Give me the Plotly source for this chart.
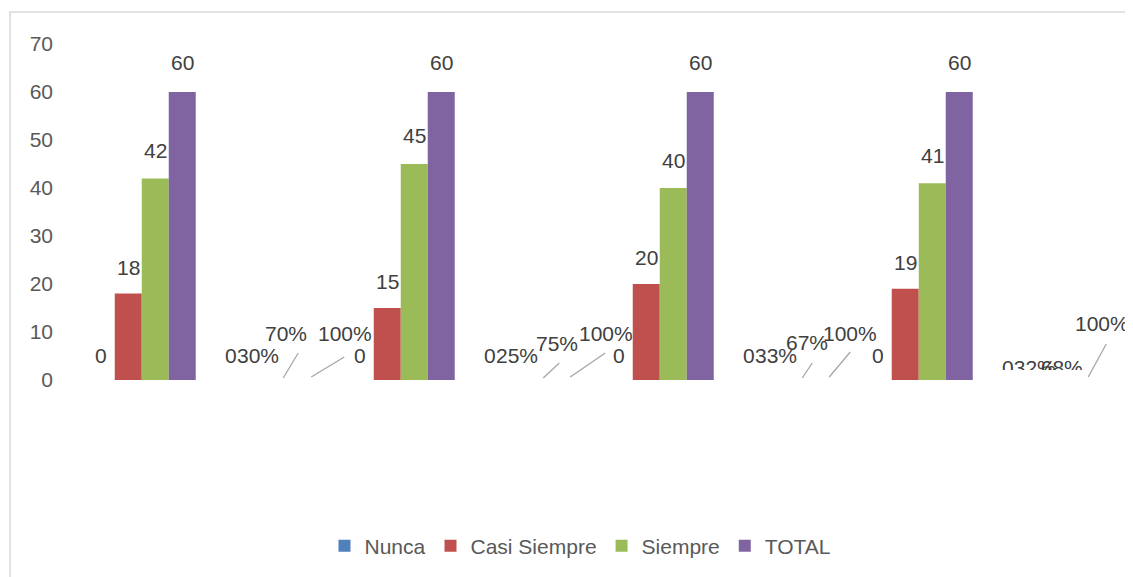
import plotly.graph_objects as go

# ---- data ----
categories = ["Ítem 1", "% Ítem 1", "Ítem 2", "% Ítem 2", "Ítem 3", "% Ítem 3", "Ítem 4", "% Ítem 4"]
# percentage columns were stored as text in the source sheet, so their columns sit at zero height
is_percent = [False, True, False, True, False, True, False, True]
series_names = ["Nunca", "Casi Siempre", "Siempre", "TOTAL"]
nunca = [0, 0, 0, 0, 0, 0, 0, 0]
casi_siempre = [18, 0.30, 15, 0.25, 20, 0.33, 19, 0.32]
siempre = [42, 0.70, 45, 0.75, 40, 0.67, 41, 0.68]
total = [60, 1.00, 60, 1.00, 60, 1.00, 60, 1.00]
y_ticks = [0, 10, 20, 30, 40, 50, 60, 70]

series_values = [nunca, casi_siempre, siempre, total]
colors = ["#4F81BD", "#C0504D", "#9BBB59", "#8064A2"]

FONT = "Liberation Sans, Arial, sans-serif"
LABEL_COLOR = "#404040"
BARGAP = 0.166
n_series = len(series_names)
bw = (1 - BARGAP) / n_series
xs = list(range(len(categories)))


def fmt(v, pct):
    if v == 0:
        return "0"
    return f"{round(v * 100):d}%" if pct else f"{v:g}"


def plotted(vals):
    return [0 if p else v for v, p in zip(vals, is_percent)]


fig = go.Figure()
for name, vals, col in zip(series_names, series_values, colors):
    fig.add_trace(go.Bar(x=xs, y=plotted(vals), name=name, marker=dict(color=col, line=dict(width=0))))

# label placement (pixel shifts) for moved labels on percent categories, keyed (category, series)
moved = {
    (1, 2): (1.5, 47, (-1.5, 2, 13.5, 27)),
    (1, 3): (33.5, 47, (-0.5, 3, 32.5, 23)),
    (3, 2): (13.5, 37, (-0.5, 2, 15.5, 17)),
    (3, 3): (35.5, 47, (-0.5, 3, 34.5, 27)),
    (5, 2): (4.5, 38, (-0.5, 2, 9.5, 17)),
    (5, 3): (20.5, 47, (-0.5, 3, 20.5, 28)),
    (7, 3): (13.5, 57, (-0.5, 3, 17.5, 36)),
}
hidden_clip = {(7, 0), (7, 1), (7, 2)}

annotations = []
shapes = []
clip_x, clip_t = [], []
for si, vals in enumerate(series_values):
    pv = plotted(vals)
    for ci, v in enumerate(vals):
        bx = ci + (si - (n_series - 1) / 2) * bw
        txt = fmt(v, is_percent[ci])
        if (ci, si) in hidden_clip:
            clip_x.append(bx)
            clip_t.append(txt)
            continue
        xs_, ys_ = 0, 25 + 0.07 * pv[ci]
        if (ci, si) in moved:
            xs_, ys_, ln = moved[(ci, si)]
            shapes.append(dict(type="line", xref="x", yref="y", xsizemode="pixel", ysizemode="pixel",
                               xanchor=bx, yanchor=pv[ci], x0=ln[0], y0=ln[1], x1=ln[2], y1=ln[3],
                               line=dict(color="#A6A6A6", width=1.3)))
        annotations.append(dict(x=bx, y=pv[ci], xref="x", yref="y", text=txt, showarrow=False,
                                xshift=xs_, yshift=ys_, font=dict(family=FONT, size=21, color=LABEL_COLOR)))

# clipped (overlapping) labels of the last percent group
fig.add_trace(go.Scatter(x=clip_x, y=[0] * len(clip_x), xaxis="x", yaxis="y2", mode="text",
                         text=clip_t, textposition="middle center", cliponaxis=True,
                         textfont=dict(family=FONT, size=21, color=LABEL_COLOR),
                         showlegend=False, hoverinfo="skip"))

# chart border
shapes.append(dict(type="rect", xref="paper", yref="paper", x0=-0.0647, x1=1.2, y0=-1.0, y1=1.0952,
                   line=dict(color="#D9D9D9", width=1.5), fillcolor="rgba(0,0,0,0)", layer="below"))

fig.update_layout(
    width=1133, height=577,
    margin=dict(l=69, r=28, t=36, b=205),
    paper_bgcolor="white", plot_bgcolor="rgba(0,0,0,0)",
    barmode="group", bargap=BARGAP, bargroupgap=0,
    font=dict(family=FONT, color="#595959"),
    xaxis=dict(range=[-0.5, len(categories) - 0.5], showticklabels=False, showgrid=False,
               zeroline=False, showline=False, ticks="", anchor="y"),
    yaxis=dict(range=[0, 70], tickvals=y_ticks, showgrid=False, zeroline=False, showline=False,
               ticks="", ticklabelstandoff=23, tickfont=dict(family=FONT, size=21, color="#595959")),
    yaxis2=dict(domain=[10 / 336, 1], range=[0, 1], visible=False, anchor="x", fixedrange=True),
    legend=dict(orientation="h", x=0.486, xanchor="center", y=-0.494, yanchor="middle",
                font=dict(family=FONT, size=21, color="#595959"), traceorder="normal"),
    annotations=annotations,
    shapes=shapes,
    showlegend=True,
)

fig.write_html("out.html")
